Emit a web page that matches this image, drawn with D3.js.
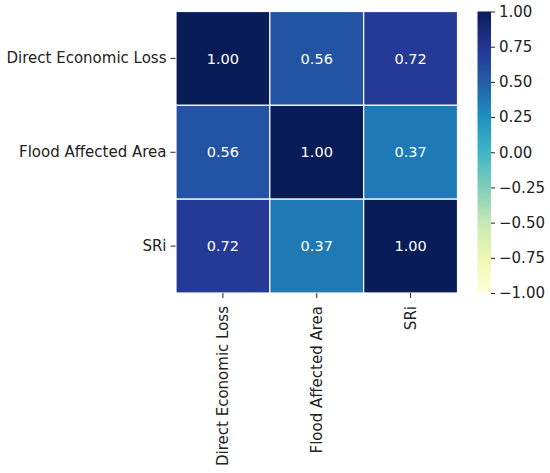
<!DOCTYPE html>
<html>
<head>
<meta charset="utf-8">
<script src="https://cdn.jsdelivr.net/npm/d3@7"></script>
<style>
  body { margin: 0; background: #fff; }
  text { font-family: "DejaVu Sans", sans-serif; }
</style>
</head>
<body>
<div id="main"></div>
<script>
// variables, correlation matrix, colorbar ticks
const variables = ["Direct Economic Loss", "Flood Affected Area", "SRi"];
const corr = [
  [1.00, 0.56, 0.72],
  [0.56, 1.00, 0.37],
  [0.72, 0.37, 1.00]
];
const cbarTicks = [1.00, 0.75, 0.50, 0.25, 0.00, -0.25, -0.50, -0.75, -1.00];

const ctx = {
  width: 550, height: 473,
  left: 176, top: 11.5, size: 281.5,
  cbLeft: 477.5, cbWidth: 13.5,
  fontSize: 15,
  annotSize: 14.5
};

// matplotlib YlGnBu (linear segmented over colorbrewer 9 stops)
const ylgnbu = ["#ffffd9","#edf8b1","#c7e9b4","#7fcdbb","#41b6c4","#1d91c0","#225ea8","#253494","#081d58"];
const color = d3.scaleLinear()
  .domain(d3.range(ylgnbu.length).map(i => -1 + 2 * i / (ylgnbu.length - 1)))
  .range(ylgnbu)
  .interpolate(d3.interpolateRgb);

const svg = d3.select("#main").append("svg")
  .attr("width", ctx.width)
  .attr("height", ctx.height);

const x = d3.scaleBand().domain(variables).range([ctx.left, ctx.left + ctx.size]);
const y = d3.scaleBand().domain(variables).range([ctx.top, ctx.top + ctx.size]);

const cells = [];
corr.forEach((row, i) => row.forEach((v, j) => cells.push({row: variables[i], col: variables[j], v: v})));

svg.append("g").selectAll("rect")
  .data(cells)
  .enter().append("rect")
  .attr("x", d => x(d.col))
  .attr("y", d => y(d.row))
  .attr("width", x.bandwidth())
  .attr("height", y.bandwidth())
  .attr("fill", d => color(d.v))
  .attr("stroke", "#fff")
  .attr("stroke-width", 1.2);

svg.append("g").selectAll("text")
  .data(cells)
  .enter().append("text")
  .attr("x", d => x(d.col) + x.bandwidth() / 2)
  .attr("y", d => y(d.row) + y.bandwidth() / 2)
  .attr("dy", "0.36em")
  .attr("text-anchor", "middle")
  .attr("font-size", ctx.annotSize)
  .attr("fill", "#fff")
  .text(d => d.v.toFixed(2));

// y axis
const yAxis = svg.append("g")
  .attr("transform", `translate(${ctx.left - 0.5},0)`)
  .call(d3.axisLeft(y).tickSize(5).tickPadding(4));
yAxis.select(".domain").remove();
yAxis.selectAll("text").attr("font-size", ctx.fontSize).attr("fill", "#222")
  .attr("font-family", "DejaVu Sans");
yAxis.selectAll("line").attr("stroke", "#222");

// x axis, labels rotated
const xAxis = svg.append("g")
  .attr("transform", `translate(0,${ctx.top + ctx.size})`)
  .call(d3.axisBottom(x).tickSize(5).tickPadding(8));
xAxis.select(".domain").remove();
xAxis.selectAll("line").attr("stroke", "#222");
xAxis.selectAll("text")
  .attr("font-size", ctx.fontSize).attr("fill", "#222")
  .attr("font-family", "DejaVu Sans")
  .attr("text-anchor", "end")
  .attr("transform", "rotate(-90)")
  .attr("x", -13)
  .attr("y", 0)
  .attr("dy", "0.35em");

// colorbar
const cb = d3.scaleLinear().domain([-1, 1]).range([ctx.top + ctx.size, ctx.top]);
const defs = svg.append("defs");
const grad = defs.append("linearGradient").attr("id", "cbgrad")
  .attr("x1", 0).attr("y1", 1).attr("x2", 0).attr("y2", 0);
grad.selectAll("stop")
  .data(color.domain())
  .enter().append("stop")
  .attr("offset", d => (d + 1) / 2)
  .attr("stop-color", d => color(d));

svg.append("rect")
  .attr("x", ctx.cbLeft)
  .attr("y", ctx.top)
  .attr("width", ctx.cbWidth)
  .attr("height", ctx.size)
  .attr("fill", "url(#cbgrad)");

const cbAxis = svg.append("g")
  .attr("transform", `translate(${ctx.cbLeft + ctx.cbWidth},0)`)
  .call(d3.axisRight(cb).tickValues(cbarTicks).tickSize(4).tickPadding(4)
    .tickFormat(d => d3.format(".2f")(d).replace("-", "\u2212")));
cbAxis.select(".domain").remove();
cbAxis.selectAll("line").attr("stroke", "#222");
cbAxis.selectAll("text").attr("font-size", ctx.fontSize).attr("fill", "#222")
  .attr("font-family", "DejaVu Sans");
</script>
</body>
</html>
